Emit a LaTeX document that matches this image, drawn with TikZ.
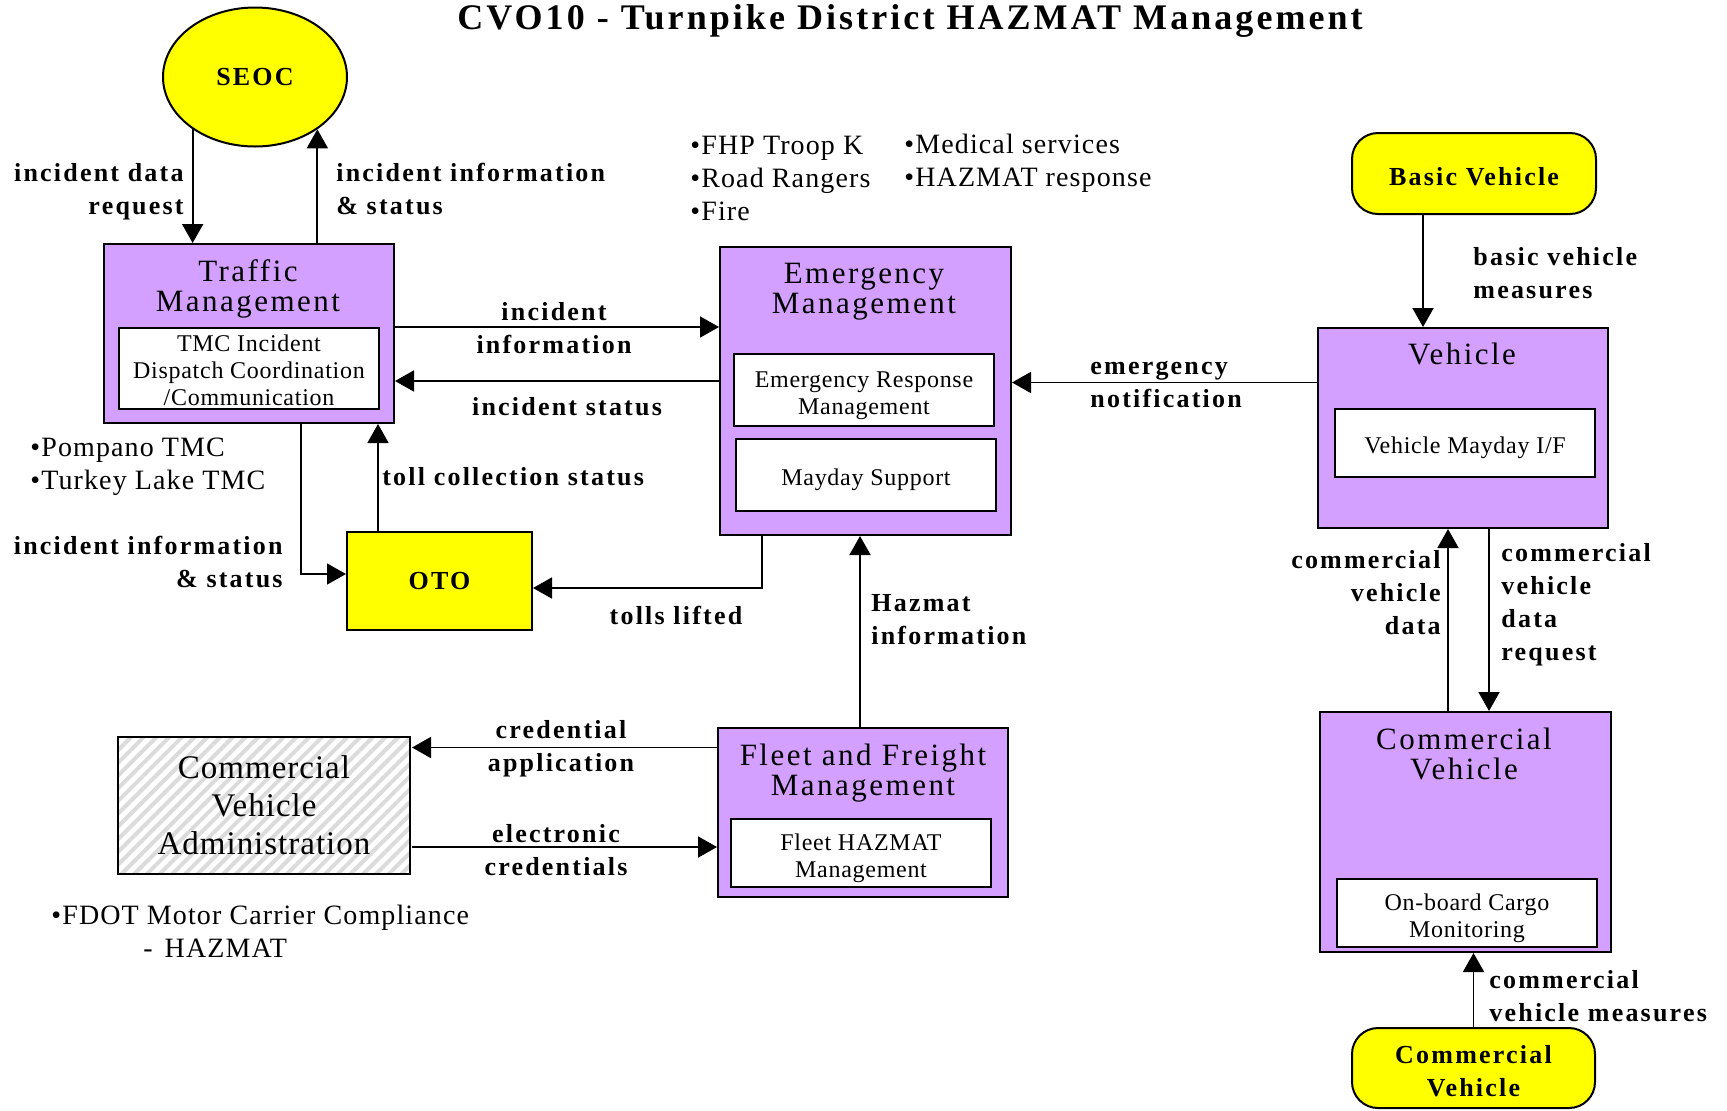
\documentclass[tikz,border=0pt]{standalone}
\usepackage{fontspec}
\setmainfont{Liberation Serif}
\newfontfamily\lblfam[LetterSpace=8.5]{Liberation Serif}
\newfontfamily\notefam[LetterSpace=4]{Liberation Serif}
\newfontfamily\subfam[LetterSpace=3]{Liberation Serif}
\newfontfamily\headfam[LetterSpace=8]{Liberation Serif}
\newfontfamily\cvafam[LetterSpace=3]{Liberation Serif}
\usepackage{tikz}
\usetikzlibrary{arrows.meta,shapes.geometric,patterns.meta,positioning}
\definecolor{sysviolet}{RGB}{212,160,255}
\definecolor{termyellow}{RGB}{255,255,0}
\newcommand{\lblfont}{\lblfam\bfseries\fontsize{13pt}{16.5pt}\selectfont}
\newcommand{\bigtitlefont}{\lblfam\bfseries\fontsize{18pt}{20pt}\selectfont}
\newcommand{\notefont}{\notefam\fontsize{14pt}{16.5pt}\selectfont}
\newcommand{\subfont}{\subfam\fontsize{12pt}{13.5pt}\selectfont}
\newcommand{\headfont}{\headfam\fontsize{15.5pt}{15pt}\selectfont}
\newcommand{\cvafont}{\cvafam\fontsize{16.5pt}{19pt}\selectfont}
\newcommand{\subtop}{\rule{0pt}{13.5pt}}
\newcommand{\termtop}{\rule{0pt}{12.5pt}}
\tikzset{
  sysbox/.style={draw, line width=1pt, fill=sysviolet, inner sep=0pt},
  sysname/.style={font=\headfont, align=center, inner sep=0pt, yshift=-1.5pt},
  subsys/.style={draw, line width=1pt, fill=white, font=\subfont, align=center, inner sep=0pt, minimum width=130pt},
  termbox/.style={draw, line width=1pt, fill=termyellow, font=\lblfont, align=center, inner sep=0pt},
  hatchbox/.style={draw, line width=1pt, pattern={Lines[angle=45,distance=4.5pt,line width=2pt]}, pattern color=gray!28, font=\cvafont, align=center, inner sep=0pt},
  flowarrow/.style={-{Triangle[length=9.5pt,width=10.5pt]}, line width=0.9pt},
  flowlabel/.style={font=\lblfont, inner sep=0pt},
  bullets/.style={font=\notefont, align=left, inner sep=0pt, anchor=west, yshift=-1.5pt},
}

\begin{document}
\begin{tikzpicture}[x=0.5pt, y=-0.5pt]
  \useasboundingbox (0,0) rectangle (1727,1110);

  % Title
  \node[font=\bigtitlefont, inner sep=0pt] (title) at (910,21) {CVO10 - Turnpike District HAZMAT Management};

  % Terminators
  \node[termbox, ellipse, minimum width=92pt, minimum height=69.5pt] (seoc) at (255,77) {SEOC};
  \node[termbox, minimum width=92.5pt, minimum height=49pt] (oto) at (439.5,581) {OTO};
  \node[termbox, rounded corners=13pt, minimum width=122pt, minimum height=40.5pt] (basicveh) at (1474,173.5) {\termtop Basic Vehicle};
  \node[termbox, rounded corners=13pt, minimum width=121.5pt, minimum height=40pt] (comveh) at (1473.5,1068) {\termtop Commercial\\Vehicle};

  % Traffic Management
  \node[sysbox, minimum width=145pt, minimum height=89.5pt] (tm) at (249,333.5) {};
  \node[sysname] (tmname) at (248,286) {Traffic\\Management};
  \node[subsys, minimum height=40.5pt] (tmsub) at (249,368.5) {\rule{0pt}{10pt}TMC Incident\\Dispatch Coordination\\/Communication};

  % Emergency Management
  \node[sysbox, minimum width=145.5pt, minimum height=144pt] (em) at (865.5,391) {};
  \node[sysname] (emname) at (864,289) {Emergency\\Management};
  \node[subsys, minimum height=36pt] (ermsub) at (864,390) {\subtop Emergency Response\\Management};
  \node[subsys, minimum height=36pt] (maysub) at (866,475) {\subtop Mayday Support};

  % Vehicle
  \node[sysbox, minimum width=145pt, minimum height=100pt] (veh) at (1463,428) {};
  \node[sysname] (vehname) at (1462,351) {Vehicle};
  \node[subsys, minimum height=34pt] (vehsub) at (1465,443) {\subtop Vehicle Mayday I/F};

  % Commercial Vehicle
  \node[sysbox, minimum width=145.5pt, minimum height=120pt] (cv) at (1465.5,832) {};
  \node[sysname, yshift=1.5pt] (cvname) at (1464,753.5) {Commercial\\Vehicle};
  \node[subsys, minimum height=34pt] (cvsub) at (1467,913) {\subtop On-board Cargo\\Monitoring};

  % Fleet and Freight Management
  \node[sysbox, minimum width=145pt, minimum height=84.5pt] (ffm) at (863,812.5) {};
  \node[sysname] (ffmname) at (863,770) {Fleet and Freight\\Management};
  \node[subsys, minimum height=34pt] (ffmsub) at (861,853) {\subtop Fleet HAZMAT\\Management};

  % Commercial Vehicle Administration
  \node[hatchbox, minimum width=146pt, minimum height=68.5pt] (cva) at (264,805.5) {Commercial\\Vehicle\\Administration};

  % Notes
  \node[bullets] (emnotesa) at (690,175.5) {•FHP Troop K\\•Road Rangers\\•Fire};
  \node[bullets] (emnotesb) at (904,160) {•Medical services\\•HAZMAT response};
  \node[bullets] (tmnotes) at (30,464) {•Pompano TMC\\•Turkey Lake TMC};
  \node[bullets] (cvanotes) at (51,928) {•FDOT Motor Carrier Compliance\\\hspace*{46pt}-\hspace{6pt}HAZMAT};

  % Flows
  \draw[flowarrow] (seoc.220) -- (seoc.220 |- tm.north);
  \draw[flowarrow] (tm.north -| seoc.320) -- (seoc.320);
  \draw[flowarrow] ([yshift=3.25pt]tm.east) -- ([yshift=3.25pt]tm.east -| em.west);
  \draw[flowarrow] ([yshift=5pt]em.west) -- ([yshift=5pt]em.west -| tm.east);
  \draw[flowarrow] ([yshift=22.75pt]veh.west) -- ([yshift=22.75pt]veh.west -| em.east);
  \draw[flowarrow] ([xshift=-25.5pt]basicveh.south) -- ([xshift=-25.5pt]basicveh.south |- veh.north);
  \draw[flowarrow] ([xshift=-8.75pt]cv.north) -- ([xshift=-8.75pt]cv.north |- veh.south);
  \draw[flowarrow] ([xshift=13pt]veh.south) -- ([xshift=13pt]veh.south |- cv.north);
  \draw[flowarrow] (comveh.north) -- (comveh.north |- cv.south);
  \draw[flowarrow, line width=0.7pt] ([xshift=26pt]tm.south) |- ([yshift=3.5pt]oto.west);
  \draw[flowarrow] ([xshift=-30.75pt]oto.north) -- ([xshift=-30.75pt]oto.north |- tm.south);
  \draw[flowarrow] ([xshift=-51.75pt]em.south) |- ([yshift=-3.5pt]oto.east);
  \draw[flowarrow] ([xshift=-1.5pt]ffm.north) -- ([xshift=-1.5pt]ffm.north |- em.south);
  \draw[flowarrow] ([yshift=32.5pt]ffm.west) -- ([yshift=32.5pt]ffm.west -| cva.east);
  \draw[flowarrow] ([yshift=-20.75pt]cva.east) -- ([yshift=-20.75pt]cva.east -| ffm.west);

  % Flow labels
  \node[flowlabel, align=right, anchor=east] (lblreq) at (184,192) {incident data\\request};
  \node[flowlabel, align=left, anchor=west] (lblseocstat) at (336,189) {incident information\\\& status};
  \node[flowlabel, align=center] (lblinfo) at (554,328.5) {incident\\information};
  \node[flowlabel] (lblstat) at (567,407) {incident status};
  \node[flowlabel, align=left, anchor=west] (lblnotif) at (1090,384) {emergency\\notification};
  \node[flowlabel, align=left, anchor=west] (lblbvm) at (1473,273) {basic vehicle\\measures};
  \node[flowlabel, align=right, anchor=east] (lblcvd) at (1441,593) {commercial\\vehicle\\data};
  \node[flowlabel, align=left, anchor=west] (lblcvdr) at (1501,605) {commercial\\vehicle\\data\\request};
  \node[flowlabel, align=left, anchor=west] (lblcvm) at (1489,996) {commercial\\vehicle measures};
  \node[flowlabel, align=right, anchor=east] (lblotostat) at (283,562) {incident information\\\& status};
  \node[flowlabel, anchor=west] (lbltoll) at (382,477) {toll collection status};
  \node[flowlabel] (lbllifted) at (676,615) {tolls lifted};
  \node[flowlabel, align=left, anchor=west] (lblhaz) at (871,620) {Hazmat\\information};
  \node[flowlabel, align=center] (lblcredapp) at (561,748.5) {credential\\application};
  \node[flowlabel, align=center] (lblecred) at (556,850.5) {electronic\\credentials};
\end{tikzpicture}
\end{document}
